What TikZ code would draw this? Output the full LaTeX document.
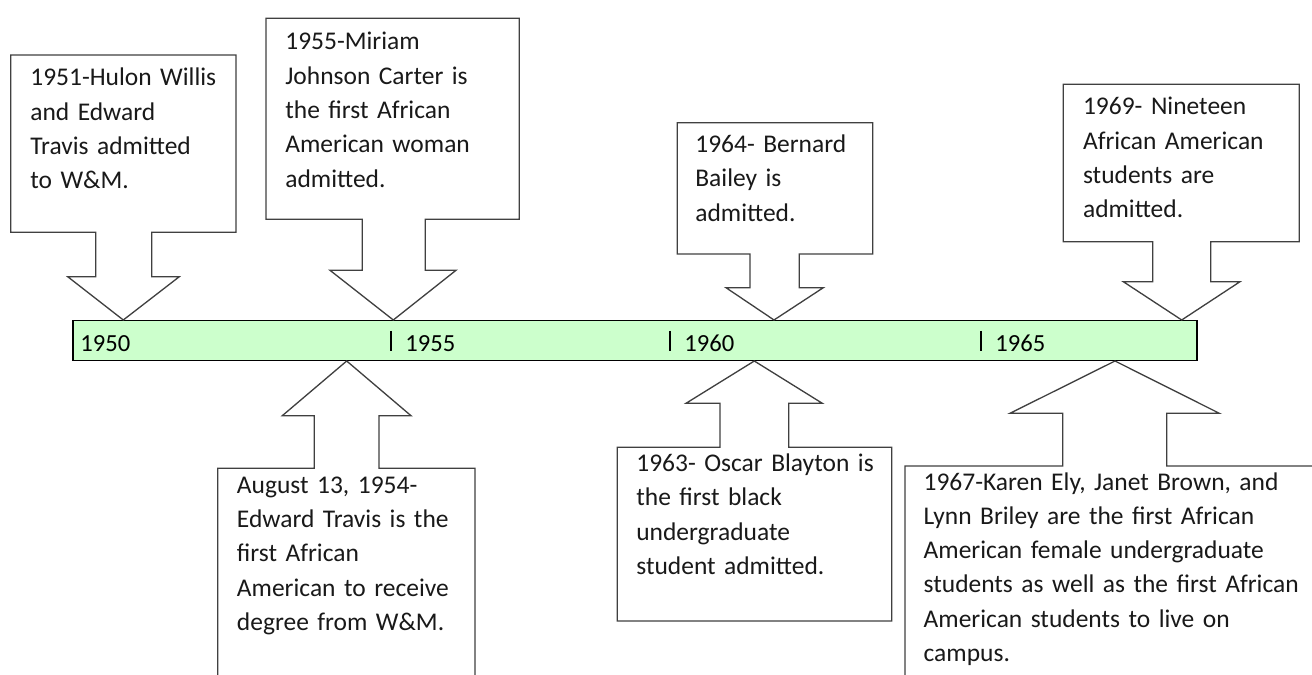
\documentclass[tikz,border=0pt]{standalone}
\usepackage{fontspec}
\setmainfont{Carlito}
\usepackage{xcolor}
\usetikzlibrary{positioning}
\definecolor{barfill}{HTML}{CCFFCC}
\definecolor{outline}{HTML}{404040}

\begin{document}
\begin{tikzpicture}[
                x=0.02cm, y=-0.02cm,
                timebar/.style={rectangle, draw=black, line width=0.85pt, fill=barfill, inner sep=0pt, minimum width=22.48cm, minimum height=0.8cm},
                callout/.style={draw=outline, line width=0.75pt, fill=white, line join=miter},
                event/.style={anchor=base west, inner sep=0pt, align=left, text width=8cm, font=\fontsize{14.5}{19.5}\selectfont, text=black!90},
                yearlabel/.style={anchor=base west, inner sep=0pt, font=\fontsize{14}{17}\selectfont},
                yeartick/.style={line width=0.8pt}
                ]
                \useasboundingbox (0,0) rectangle (1312,675);
                \clip (0,0) rectangle (1312,675);

                % Timeline bar
                \node[timebar] (bar) at (635,340.5) {};

                % Tips on the bar
                \coordinate (tip1951) at (123.3,320);
                \coordinate (tip1955) at (393.3,320);
                \coordinate (tip1964) at (774,320);
                \coordinate (tip1969) at (1181.7,320);
                \coordinate (tip1954) at (346.7,361);
                \coordinate (tip1963) at (754.3,361);
                \coordinate (tip1967) at (1115,361);

                % Ticks and years
                \draw[yeartick] (391,331) -- (391,351);
                \draw[yeartick] (670,331) -- (670,351);
                \draw[yeartick] (981,331) -- (981,351);
                \node[yearlabel] (y1950) at (80,351.7) {1950};
                \node[yearlabel] (y1955) at (405,351.7) {1955};
                \node[yearlabel] (y1960) at (684,351.7) {1960};
                \node[yearlabel] (y1965) at (995,351.7) {1965};

                % Callouts above the bar
                \draw[callout] (10.7,55) -- (236,55) -- (236,232.3) -- (151.7,232.3) -- (151.7,276.7) -- (179.3,276.7) -- (tip1951) -- (67.7,276.7) -- (95.7,276.7) -- (95.7,232.3) -- (10.7,232.3) -- cycle;
                \draw[callout] (266,18.3) -- (519.3,18.3) -- (519.3,219.3) -- (425.3,219.3) -- (425.3,270.3) -- (456,270.3) -- (tip1955) -- (330,270.3) -- (362.3,270.3) -- (362.3,219.3) -- (266,219.3) -- cycle;
                \draw[callout] (677.3,122.7) -- (872.7,122.7) -- (872.7,254) -- (799.3,254) -- (799.3,287.7) -- (823.3,287.7) -- (tip1964) -- (726,287.7) -- (750,287.7) -- (750,254) -- (677.3,254) -- cycle;
                \draw[callout] (1063.3,84.3) -- (1299.3,84.3) -- (1299.3,241.7) -- (1210.7,241.7) -- (1210.7,281.7) -- (1240,281.7) -- (tip1969) -- (1123.3,281.7) -- (1152.7,281.7) -- (1152.7,241.7) -- (1063.3,241.7) -- cycle;

                % Callouts below the bar
                \draw[callout] (tip1954) -- (411,415.7) -- (379,415.7) -- (379,468.3) -- (475,468.3) -- (475,690) -- (217.7,690) -- (217.7,468.3) -- (314.3,468.3) -- (314.3,415.7) -- (282.3,415.7) -- cycle;
                \draw[callout] (tip1963) -- (822.3,403.3) -- (788.7,403.3) -- (788.7,447.3) -- (891.7,447.3) -- (891.7,621) -- (617.3,621) -- (617.3,447.3) -- (720,447.3) -- (720,403.3) -- (686,403.3) -- cycle;
                \draw[callout] (tip1967) -- (1219.3,413.3) -- (1166.7,413.3) -- (1166.7,466) -- (1330,466) -- (1330,690) -- (905,690) -- (905,466) -- (1062.7,466) -- (1062.7,413.3) -- (1010,413.3) -- cycle;

                % Event texts
                \node[event] (ev1951) at (30,86) {1951-Hulon Willis\\and Edward\\Travis admitted\\to W\&M.};
                \node[event] (ev1955) at (285,50) {1955-Miriam\\Johnson Carter is\\the first African\\American woman\\admitted.};
                \node[event] (ev1964) at (695,152.5) {1964- Bernard\\Bailey is\\admitted.};
                \node[event] (ev1969) at (1082.7,115) {1969- Nineteen\\African American\\students are\\admitted.};
                \node[event] (ev1954) at (236.6,493.3) {August 13, 1954-\\Edward Travis is the\\first African\\American to receive\\degree from W\&M.};
                \node[event] (ev1963) at (636,471.7) {1963- Oscar Blayton is\\the first black\\undergraduate\\student admitted.};
                \node[event] (ev1967) at (923.3,490) {1967-Karen Ely, Janet Brown, and\\Lynn Briley are the first African\\American female undergraduate\\students as well as the first African\\American students to live on\\campus.};

\end{tikzpicture}
\end{document}
